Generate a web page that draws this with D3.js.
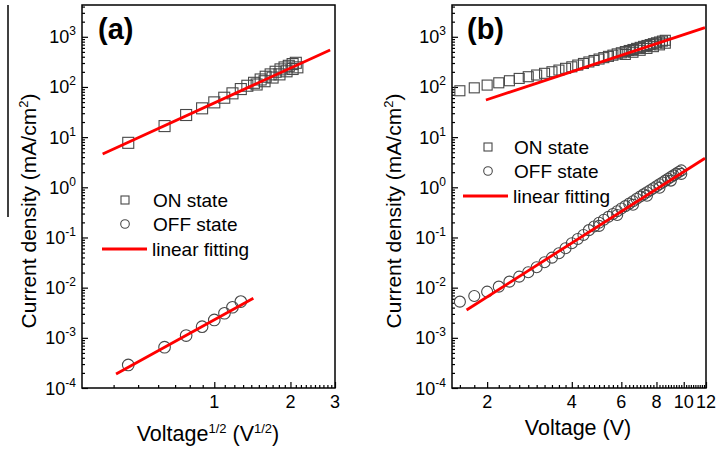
<!DOCTYPE html>
<html>
<head>
<meta charset="utf-8">
<style>
  body { margin: 0; background: #fff; }
  svg text { font-family: Arial, "Liberation Sans", sans-serif; fill: #000; }
</style>
<script src="https://d3js.org/d3.v7.min.js"></script>
</head>
<body>
<script>
const W = 718, H = 452;

// ---- panel (a): current density vs V^1/2 ----
const onA_x = [0.457, 0.636, 0.774, 0.895, 1.0, 1.095, 1.18, 1.273, 1.351, 1.436, 1.525, 1.596, 1.670, 1.747, 1.827, 1.895, 1.970, 2.04, 2.10];
const onA_J = [7.7, 16.6, 27.6, 37.5, 49.3, 61, 74.6, 90.8, 105.7, 121, 141, 160, 178, 201, 224, 245, 264, 286, 303];
// overlapping squares of the back sweep (slightly lower)
const onA_back_x = [1.47, 1.58, 1.70, 1.81, 1.93, 2.04, 2.13];
const onA_back_J = [112, 130, 154, 178, 205, 228, 246];
const offA_x = [0.457, 0.636, 0.774, 0.895, 1.0, 1.097, 1.18, 1.273];
const offA_J = [2.88e-4, 6.5e-4, 1.11e-3, 1.67e-3, 2.27e-3, 3.09e-3, 4.07e-3, 5.27e-3];
const fitOnA_x = [0.362, 2.87];
const fitOnA_J = [4.61, 546];
const fitOffA_x = [0.409, 1.427];
const fitOffA_J = [1.9e-4, 6.14e-3];

// ---- panel (b): current density vs V ----
const onB_x = [1.6, 1.8, 2.0, 2.2, 2.4, 2.6, 2.8, 3.0, 3.2, 3.4, 3.6, 3.8, 4.0, 4.2, 4.4, 4.6, 4.8, 5.0,
               5.2, 5.4, 5.6, 5.8, 6.0, 6.2, 6.4, 6.6, 6.8, 7.0, 7.2, 7.4, 7.6, 7.8, 8.0, 8.2, 8.4, 8.6];
const onB_J = [84, 96, 109, 121, 133, 148, 160, 173, 187, 201, 217, 235, 252, 273, 294, 315, 337, 360,
               384, 407, 430, 456, 480, 507, 533, 558, 587, 615, 644, 671, 699, 729, 759, 787, 821, 851];
const onB_back_x = [6.2, 6.6, 7.0, 7.4, 7.8, 8.2, 8.6];
const onB_back_J = [445, 492, 538, 586, 636, 690, 745];
const offB_x = [1.6, 1.8, 2.0, 2.2, 2.4, 2.6, 2.8, 3.0, 3.2, 3.4, 3.6, 3.8, 4.0, 4.2, 4.4, 4.6, 4.8, 5.0, 5.2, 5.4, 5.6,
                5.8, 6.0, 6.2, 6.4, 6.6, 6.8, 7.0, 7.2, 7.4, 7.6, 7.8, 8.0, 8.2, 8.4, 8.6, 8.8, 9.0, 9.2, 9.4, 9.6, 9.8];
const offB_J = [0.00526, 0.00684, 0.00832, 0.01047, 0.01318, 0.01656, 0.0203, 0.0255, 0.0321, 0.0396, 0.0485,
                0.0610, 0.0766, 0.0933, 0.112, 0.14, 0.165, 0.196, 0.2255, 0.258, 0.294, 0.333, 0.377, 0.422,
                0.473, 0.528, 0.590, 0.653, 0.722, 0.795, 0.875, 0.959, 1.05, 1.15, 1.25, 1.36, 1.48, 1.60,
                1.73, 1.87, 2.02, 2.17];
const offB_back_x = [5.0, 5.8, 6.6, 7.4, 8.2, 9.0, 9.8];
const offB_back_J = [0.17, 0.28, 0.45, 0.68, 0.98, 1.36, 1.85];
const fitOnB_x = [1.98, 11.9];
const fitOnB_J = [55, 1518];
const fitOffB_x = [1.69, 11.9];
const fitOffB_J = [3.59e-3, 3.79];

// ---- axes / labels ----
const yMajor = [1e-4, 1e-3, 1e-2, 1e-1, 1, 10, 100, 1000];
const yExp = ["-4", "-3", "-2", "-1", "0", "1", "2", "3"];
const xMajorA = [1, 2, 3];
const xMinorA = [0.4, 0.5, 0.6, 0.7, 0.8, 0.9, 1.1, 1.2, 1.3, 1.4, 1.5, 1.6, 1.7, 1.8, 1.9,
                 2.1, 2.2, 2.3, 2.4, 2.5, 2.6, 2.7, 2.8, 2.9];
const xMajorB = [2, 4, 6, 8, 10, 12];
const legendNames = ["ON state", "OFF state", "linear fitting"];

const RED = "#ff0000";
const MARK = "#484848";

const svg = d3.select("body").append("svg").attr("width", W).attr("height", H);

// stray vertical rule at far left of the original figure
svg.append("line")
    .attr("x1", 8).attr("x2", 8).attr("y1", 5).attr("y2", 217)
    .attr("stroke", "#000").attr("stroke-width", 1.5);

function panel(o) {
    const g = svg.append("g");
    const x = d3.scaleLog().domain(o.xDom).range([o.left, o.right]);
    const y = d3.scaleLog().domain([1e-4, 4300]).range([388, 5]);

    const isPow = t => Math.abs(Math.log10(t) - Math.round(Math.log10(t))) < 1e-6;

    // y ticks (inward)
    g.append("g").attr("transform", `translate(${o.left},0)`)
        .call(d3.axisLeft(y).tickValues(y.ticks().filter(t => !isPow(t))).tickSize(-3).tickFormat(""))
        .call(a => a.select(".domain").remove());
    g.append("g").attr("transform", `translate(${o.left},0)`)
        .call(d3.axisLeft(y).tickValues(yMajor).tickSize(-6).tickFormat(""))
        .call(a => a.select(".domain").remove());
    g.selectAll("line").attr("stroke-width", 1.2);

    const yl = g.selectAll("text.ylab").data(yMajor).enter().append("text")
        .attr("class", "ylab")
        .attr("x", o.left - 6)
        .attr("y", d => y(d) + 6.5)
        .attr("text-anchor", "end")
        .style("font-size", "18px")
        .text("10");
    yl.append("tspan").attr("dy", -8).style("font-size", "12px").text((d, i) => yExp[i]);

    // x ticks (inward)
    const xa = g.append("g").attr("transform", "translate(0,388)");
    xa.append("g")
        .call(d3.axisBottom(x).tickValues(o.xMinor).tickSize(-3).tickFormat(""))
        .call(a => a.select(".domain").remove());
    xa.append("g")
        .call(d3.axisBottom(x).tickValues(o.xMajor).tickSize(-6).tickFormat(""))
        .call(a => a.select(".domain").remove());
    xa.selectAll("line").attr("stroke-width", 1.2);
    g.selectAll("text.xlab").data(o.xMajor).enter().append("text")
        .attr("class", "xlab")
        .attr("x", d => x(d))
        .attr("y", 408)
        .attr("text-anchor", "middle")
        .style("font-size", "18px")
        .text(d => d);

    // frame
    g.append("rect")
        .attr("x", o.left).attr("y", 5)
        .attr("width", o.right - o.left).attr("height", 383)
        .attr("fill", "none").attr("stroke", "#000").attr("stroke-width", 1.5);

    const line = d3.line().x(d => x(d[0])).y(d => y(d[1]));

    // squares
    const sq = o.sq;
    o.on.forEach(s => {
        g.selectAll(null).data(d3.zip(s[0], s[1])).enter().append("rect")
            .attr("x", d => x(d[0]) - sq / 2)
            .attr("y", d => y(d[1]) - sq / 2)
            .attr("width", sq).attr("height", sq)
            .attr("fill", "none").attr("stroke", MARK).attr("stroke-width", 1.1);
    });
    o.off.forEach(s => {
        g.selectAll(null).data(d3.zip(s[0], s[1])).enter().append("circle")
            .attr("cx", d => x(d[0]))
            .attr("cy", d => y(d[1]))
            .attr("r", o.r)
            .attr("fill", "none").attr("stroke", MARK).attr("stroke-width", 1.1);
    });

    // fits
    o.fits.forEach(f => {
        g.append("path").datum(d3.zip(f[0], f[1]))
            .attr("d", line)
            .attr("fill", "none").attr("stroke", RED).attr("stroke-width", 2.8);
    });

    // panel tag
    g.append("text").attr("x", o.tagX).attr("y", 39)
        .style("font-size", "29px").style("font-weight", "bold")
        .text(o.tag);

    // legend
    const L = o.leg;
    g.append("rect").attr("x", L.mx - 4).attr("y", L.y0 - 4).attr("width", 8).attr("height", 8)
        .attr("fill", "none").attr("stroke", MARK).attr("stroke-width", 1.1);
    g.append("circle").attr("cx", L.mx).attr("cy", L.y0 + 24).attr("r", 4.3)
        .attr("fill", "none").attr("stroke", MARK).attr("stroke-width", 1.1);
    g.append("line").attr("x1", L.lx1).attr("x2", L.lx2)
        .attr("y1", L.y0 + 49).attr("y2", L.y0 + 49)
        .attr("stroke", RED).attr("stroke-width", 2.8);
    g.selectAll("text.leg").data(legendNames).enter().append("text")
        .attr("class", "leg")
        .attr("x", (d, i) => i < 2 ? L.tx : L.tx - 1)
        .attr("y", (d, i) => L.y0 + 7 + [0, 24, 49][i])
        .style("font-size", "19px")
        .text(d => d);

    // y title
    const yt = g.append("text")
        .attr("transform", `translate(${o.yTitleX},211) rotate(-90)`)
        .attr("text-anchor", "middle")
        .style("font-size", "21px")
        .text("Current density (mA/cm");
    yt.append("tspan").attr("dy", -8).style("font-size", "13px").text("2");
    yt.append("tspan").attr("dy", 8).text(")");

    return {x, y};
}

panel({
    xDom: [0.3, 3], left: 82, right: 335,
    xMajor: xMajorA, xMinor: xMinorA,
    sq: 11, r: 5.8,
    on: [[onA_x, onA_J], [onA_back_x, onA_back_J]],
    off: [[offA_x, offA_J]],
    fits: [[fitOnA_x, fitOnA_J], [fitOffA_x, fitOffA_J]],
    tag: "(a)", tagX: 98,
    leg: {mx: 125, y0: 200, tx: 153, lx1: 102, lx2: 147},
    yTitleX: 36
});

panel({
    xDom: [1.5, 12], left: 452, right: 706,
    xMajor: xMajorB,
    xMinor: d3.range(16, 120, 2).map(d => d / 10).filter(d => !xMajorB.includes(d)),
    sq: 10, r: 5.5,
    on: [[onB_x, onB_J], [onB_back_x, onB_back_J]],
    off: [[offB_x, offB_J], [offB_back_x, offB_back_J]],
    fits: [[fitOnB_x, fitOnB_J], [fitOffB_x, fitOffB_J]],
    tag: "(b)", tagX: 467,
    leg: {mx: 488, y0: 147, tx: 514, lx1: 463, lx2: 508},
    yTitleX: 401
});

// x titles
const xtA = svg.append("text").attr("x", 208).attr("y", 441)
    .attr("text-anchor", "middle").style("font-size", "21.5px").text("Voltage");
xtA.append("tspan").attr("dy", -8).style("font-size", "13px").text("1/2");
xtA.append("tspan").attr("dy", 8).text(" (V");
xtA.append("tspan").attr("dy", -8).style("font-size", "13px").text("1/2");
xtA.append("tspan").attr("dy", 8).text(")");

svg.append("text").attr("x", 578).attr("y", 435)
    .attr("text-anchor", "middle").style("font-size", "21.5px").text("Voltage (V)");
</script>
</body>
</html>
